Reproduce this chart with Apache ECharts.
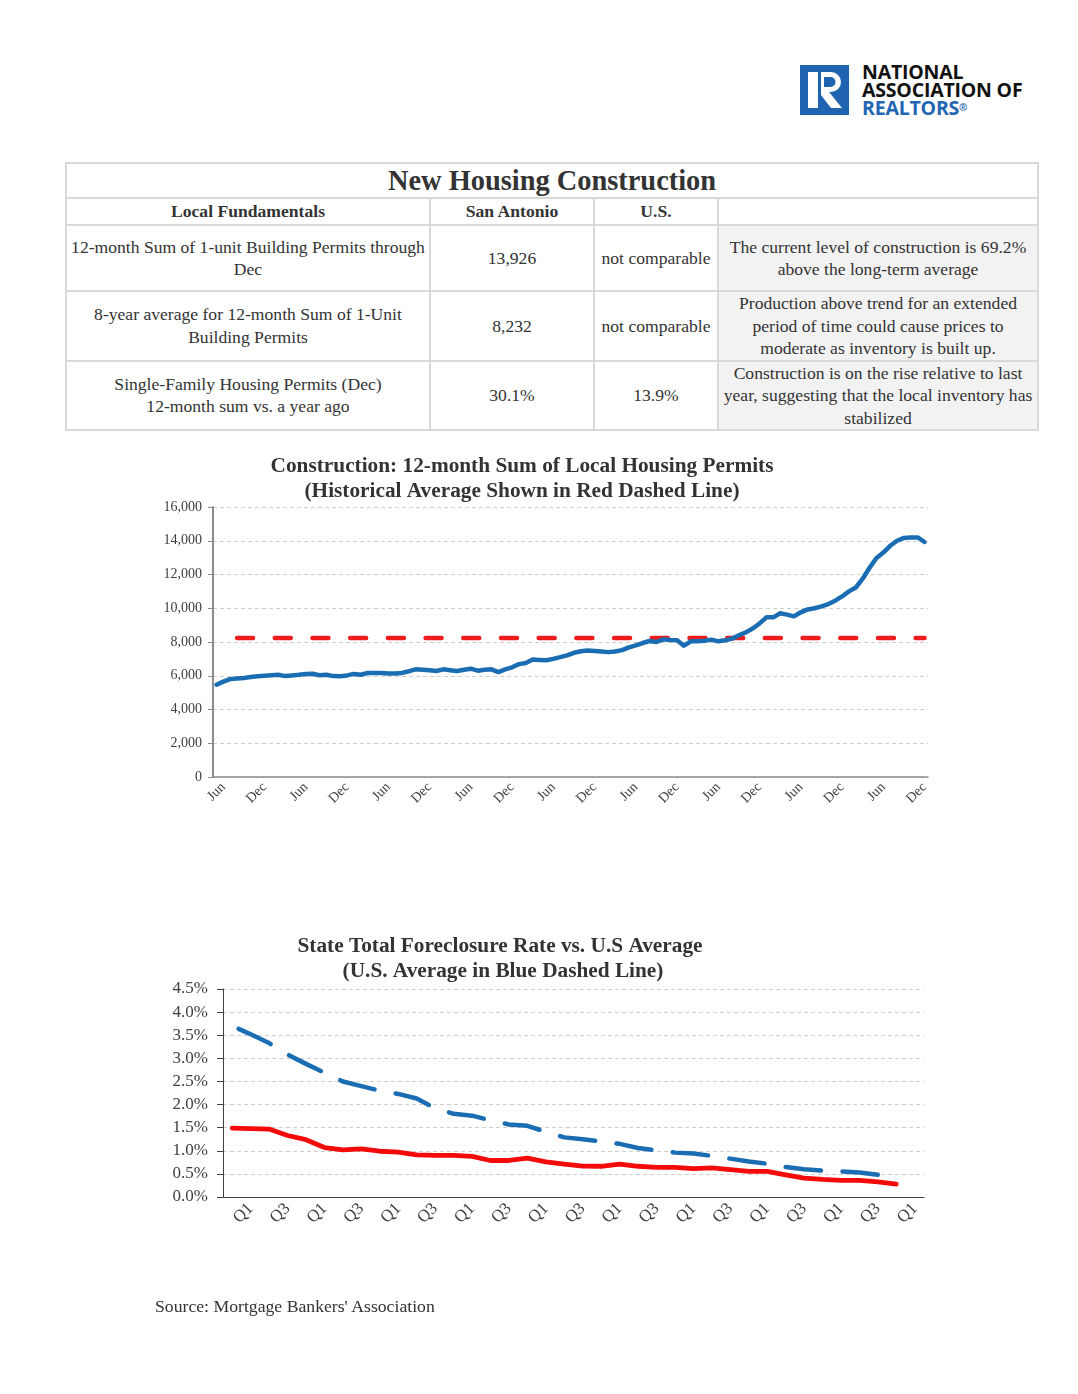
<!DOCTYPE html>
<html>
<head>
<meta charset="utf-8">
<script src="https://cdn.jsdelivr.net/npm/echarts@6/dist/echarts.min.js"></script>
<style>
  html, body { margin:0; padding:0; background:#fff; }
  body { width:1078px; height:1394px; position:relative; overflow:hidden; font-family:'Liberation Serif','Times New Roman',serif; color:#333; }
  #logo { position:absolute; left:800px; top:65px; width:250px; height:52px; }
  #logo svg { position:absolute; left:0; top:0; }
  #logo .txt { position:absolute; left:62px; top:-2px; font-family:'Open Sans','DejaVu Sans',sans-serif; font-weight:bold; font-size:19.5px; line-height:18px; color:#111; white-space:nowrap; letter-spacing:-0.2px; }
  #logo .txt .blue { color:#1f66b3; }
  #logo .txt sup { font-size:10px; vertical-align:top; position:relative; top:-1px; }
  table.t { position:absolute; left:65px; top:162px; width:972px; border-collapse:collapse; table-layout:fixed; font-size:17.6px; color:#333; }
  table.t td { border:2px solid #d9d9d9; text-align:center; vertical-align:middle; padding:0 1px; line-height:22.5px; white-space:nowrap; }
  table.t tr.ttl td { font-size:28.4px; font-weight:bold; height:33px; line-height:30px; }
  table.t tr.hdr td { font-weight:bold; height:25px; }
  table.t tr.r1 td { height:64px; }
  table.t tr.r2 td { height:65px; }
  table.t tr.r3 td { height:64px; }
  table.t td.note { background:#f2f2f2; }
  #chart { position:absolute; left:0; top:440px; width:1078px; height:900px; }
  #source { position:absolute; left:155px; top:1296px; font-size:17.7px; color:#333; white-space:nowrap; }
</style>
</head>
<body>
<div id="logo">
  <svg width="49" height="50" viewBox="0 0 49 50">
    <rect x="0" y="0" width="49" height="50" fill="#1f64b0"/>
    <rect x="8" y="7" width="10" height="36" fill="#fff"/>
    <path d="M21 7 H31 A10 10 0 0 1 31 27 H21 Z" fill="#fff"/>
    <path d="M24 12 H30.5 A5 5 0 0 1 30.5 22 H24 Z" fill="#1f64b0"/>
    <path d="M21 27 L29 27 L42 43 L21 43 Z" fill="#fff"/>
    <path d="M21 30 L21 43 L31 43 Z" fill="#1f64b0"/>
  </svg>
  <div class="txt">NATIONAL<br>ASSOCIATION OF<br><span class="blue">REALTORS<sup>®</sup></span></div>
</div>

<table class="t">
  <colgroup><col style="width:364px"><col style="width:164px"><col style="width:124px"><col style="width:320px"></colgroup>
  <tr class="ttl"><td colspan="4">New Housing Construction</td></tr>
  <tr class="hdr"><td>Local Fundamentals</td><td>San Antonio</td><td>U.S.</td><td></td></tr>
  <tr class="r1"><td>12-month Sum of 1-unit Building Permits through<br>Dec</td><td>13,926</td><td>not comparable</td><td class="note">The current level of construction is 69.2%<br>above the long-term average</td></tr>
  <tr class="r2"><td>8-year average for 12-month Sum of 1-Unit<br>Building Permits</td><td>8,232</td><td>not comparable</td><td class="note">Production above trend for an extended<br>period of time could cause prices to<br>moderate as inventory is built up.</td></tr>
  <tr class="r3"><td>Single-Family Housing Permits (Dec)<br>12-month sum vs. a year ago</td><td>30.1%</td><td>13.9%</td><td class="note">Construction is on the rise relative to last<br>year, suggesting that the local inventory has<br>stabilized</td></tr>
</table>

<div id="chart"></div>
<div id="source">Source: Mortgage Bankers' Association</div>

<script>
// ---------- Chart 1 data: 12-month sum of 1-unit permits (monthly, May .. Dec, 104 months)
const monthNames = ['Jan','Feb','Mar','Apr','May','Jun','Jul','Aug','Sep','Oct','Nov','Dec'];
const firstMonthIndex = 4; // May
const permits = [
  5470,5650,5800,5840,5870,5920,5970,6000,6030,6060,
  5980,6020,6060,6110,6120,6030,6060,5980,5970,6020,
  6110,6060,6160,6160,6160,6130,6140,6170,6270,6380,
  6350,6320,6280,6380,6330,6280,6360,6420,6300,6350,
  6380,6220,6380,6500,6690,6750,6960,6940,6920,7000,
  7100,7210,7360,7450,7490,7460,7430,7400,7440,7520,
  7680,7800,7940,8060,8000,8160,8120,8100,7780,8040,
  8040,8080,8140,8040,8100,8200,8400,8570,8800,9100,
  9460,9460,9700,9620,9520,9760,9930,10000,10110,10250,
  10450,10700,11000,11230,11750,12400,12980,13300,13700,14000,
  14170,14200,14200,13926
];
const permitMonths = permits.map((_, i) => monthNames[(firstMonthIndex + i) % 12]);
const historicalAverage = 8232;
const averageStartIndex = 3;
const permitTicks = [0, 2000, 4000, 6000, 8000, 10000, 12000, 14000, 16000];

// ---------- Chart 2 data: foreclosure rate (%), quarterly, Q4 .. Q4 (+ empty last Q1)
const quarterNames = ['Q1','Q2','Q3','Q4'];
const quarterCount = 38;
const quarters = Array.from({length: quarterCount}, (_, i) => quarterNames[(3 + i) % 4]);
const stateRate = [
  1.49,1.48,1.47,1.33,1.24,1.07,1.02,1.04,0.99,0.97,
  0.91,0.90,0.90,0.88,0.79,0.79,0.84,0.76,0.71,0.67,
  0.665,0.71,0.665,0.64,0.64,0.615,0.63,0.59,0.555,0.555,
  0.48,0.41,0.38,0.36,0.36,0.325,0.28
];
const usRate = [
  3.70,3.52,3.33,3.08,2.88,2.69,2.50,2.40,2.30,2.23,
  2.13,1.92,1.80,1.76,1.66,1.57,1.54,1.41,1.29,1.25,
  1.20,1.15,1.06,1.01,0.96,0.94,0.89,0.83,0.77,0.72,
  0.65,0.60,0.57,0.555,0.53,0.48,0.43
];
const rateTicks = [0, 0.5, 1, 1.5, 2, 2.5, 3, 3.5, 4, 4.5];

const avgSeries = permits.map((_, i) => i >= averageStartIndex ? historicalAverage : null);

const serif = 'Liberation Serif';
const chart = echarts.init(document.getElementById('chart'), null, {renderer:'canvas'});

function titleText(x, y, text) {
  return { type:'text', x:x, y:y, silent:true,
    style:{ text:text, textAlign:'center', textVerticalAlign:'middle',
      font:'bold 21.3px "Liberation Serif"', fill:'#333' } };
}

const option = {
  animation:false,
  graphic:[
    titleText(522, 26, 'Construction: 12-month Sum of Local Housing Permits'),
    titleText(522, 51, '(Historical Average Shown in Red Dashed Line)'),
    titleText(500, 506, 'State Total Foreclosure Rate vs. U.S Average'),
    titleText(503, 531, '(U.S. Average in Blue Dashed Line)')
  ],
  grid:[
    {left:213, top:67, width:715, height:270},
    {left:223, top:549, width:701, height:208}
  ],
  xAxis:[
    { type:'category', gridIndex:0, data:permitMonths, boundaryGap:true,
      axisLine:{lineStyle:{color:'#8c8c8c', width:1.5}},
      axisTick:{interval:(i)=> i % 3 === 2, length:5, lineStyle:{color:'#8c8c8c', width:1}},
      axisLabel:{interval:(i)=> i % 6 === 1, rotate:45, margin:8, fontFamily:serif, fontSize:14, color:'#404040'},
      splitLine:{show:false}
    },
    { type:'category', gridIndex:1, data:quarters, boundaryGap:true,
      axisLine:{lineStyle:{color:'#404040', width:1}},
      axisTick:{interval:0, length:6, lineStyle:{color:'#404040', width:1}},
      axisLabel:{interval:(i)=> i % 2 === 1, rotate:45, margin:9, fontFamily:serif, fontSize:17, color:'#404040'},
      splitLine:{show:false}
    }
  ],
  yAxis:[
    { type:'value', gridIndex:0, min:permitTicks[0], max:permitTicks[permitTicks.length-1], interval:2000,
      axisLine:{show:true, lineStyle:{color:'#8c8c8c', width:2}},
      axisTick:{show:true, length:5, lineStyle:{color:'#8c8c8c'}},
      splitLine:{show:true, lineStyle:{color:'#cfcfcf', width:1, type:[4,3]}},
      axisLabel:{formatter:(v)=> v.toLocaleString('en-US'), fontFamily:serif, fontSize:14, margin:11, color:'#404040'}
    },
    { type:'value', gridIndex:1, min:rateTicks[0], max:rateTicks[rateTicks.length-1], interval:0.5,
      axisLine:{show:true, lineStyle:{color:'#404040', width:1}},
      axisTick:{show:true, length:6, lineStyle:{color:'#404040'}},
      splitLine:{show:true, lineStyle:{color:'#cfcfcf', width:1, type:[4,3]}},
      axisLabel:{formatter:(v)=> v.toFixed(1) + '%', fontFamily:serif, fontSize:17, margin:15, color:'#404040'}
    }
  ],
  series:[
    { name:'Historical average', type:'line', xAxisIndex:0, yAxisIndex:0, data:avgSeries,
      showSymbol:false, symbol:'none', z:2, connectNulls:false,
      lineStyle:{color:'#ee1c1c', width:4.5, type:[16,21.7], cap:'round'} },
    { name:'Permits', type:'line', xAxisIndex:0, yAxisIndex:0, data:permits,
      showSymbol:false, symbol:'none', z:3,
      lineStyle:{color:'#1b6db3', width:4.5, cap:'round', join:'round'} },
    { name:'State', type:'line', xAxisIndex:1, yAxisIndex:1, data:stateRate,
      showSymbol:false, symbol:'none', z:2,
      lineStyle:{color:'#f50a0a', width:4.8, cap:'round', join:'round'} },
    { name:'U.S.', type:'line', xAxisIndex:1, yAxisIndex:1, data:usRate,
      showSymbol:false, symbol:'none', z:3,
      lineStyle:{color:'#1b6db3', width:4.5, type:[35.5,21.5], dashOffset:50, cap:'round', join:'round'} }
  ]
};
chart.setOption(option);
</script>
</body>
</html>
